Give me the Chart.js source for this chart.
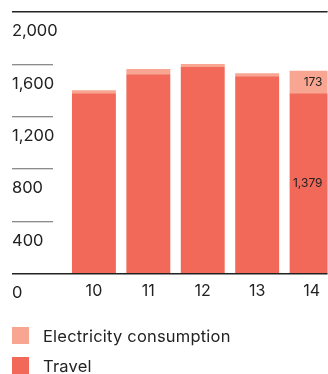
<!DOCTYPE html>
<html>
<head>
<meta charset="utf-8">
<script src="https://cdn.jsdelivr.net/npm/chart.js@4/dist/chart.umd.min.js"></script>
<style>
  html, body { margin: 0; padding: 0; background: #fff; overflow: hidden; }
  #wrap { position: relative; width: 328px; height: 374px; }
  #legend { position: absolute; left: 12px; top: 327px; font: 16.5px Inter, "Noto Sans", sans-serif; letter-spacing: 0.2px; color: #222; }
  .item { display: flex; align-items: center; height: 17px; margin-bottom: 13px; white-space: nowrap; }
  .sw { width: 17px; height: 17px; margin-right: 14px; flex: none; }
</style>
</head>
<body>
<div id="wrap">
  <canvas id="chart" width="328" height="374"></canvas>
  <div id="legend"></div>
</div>
<script>
// Emissions by year (tonnes CO2e)
const years = [10, 11, 12, 13, 14];
const travel = [1380, 1525, 1579, 1510, 1379];
const electricity = [23, 39, 23, 23, 173];
const yTicks = [0, 400, 800, 1200, 1600, 2000];
const labelledYear = 14;

const ink = '#222';
const fontFamily = 'Inter, "Noto Sans", sans-serif';
const isFrame = c => c.tick && (c.tick.value === yTicks[0] || c.tick.value === yTicks[yTicks.length - 1]);

// Writes the value inside each segment of the labelled year's bar
const segmentLabels = {
  id: 'segmentLabels',
  afterDatasetsDraw(chart) {
    const ctx = chart.ctx;
    const idx = years.indexOf(labelledYear);
    ctx.save();
    ctx.font = '12px ' + fontFamily;
    ctx.fillStyle = ink;
    ctx.textAlign = 'right';
    ctx.textBaseline = 'middle';
    chart.data.datasets.forEach((ds, di) => {
      const el = chart.getDatasetMeta(di).data[idx];
      if (!el) return;
      const p = el.getProps(['x', 'y', 'base', 'width'], true);
      const v = ds.data[idx].y;
      ctx.fillText(v.toLocaleString('en-US'), p.x + p.width / 2 - 11, (p.y + p.base) / 2);
    });
    ctx.restore();
  }
};

const chart = new Chart(document.getElementById('chart'), {
  type: 'bar',
  data: {
    datasets: [
      {
        label: 'Travel',
        data: years.map((x, i) => ({ x, y: travel[i] })),
        backgroundColor: '#f26859',
        barPercentage: 1,
        categoryPercentage: 0.807
      },
      {
        label: 'Electricity consumption',
        data: years.map((x, i) => ({ x, y: electricity[i] })),
        backgroundColor: '#f8a592',
        barPercentage: 1,
        categoryPercentage: 0.807
      }
    ]
  },
  options: {
    responsive: false,
    devicePixelRatio: 1,
    animation: false,
    layout: { padding: { left: 12, top: 12, right: 0, bottom: 65 } },
    plugins: {
      legend: { display: false },
      tooltip: { enabled: false }
    },
    scales: {
      x: {
        type: 'linear',
        stacked: true,
        offset: false,
        min: 9.248,
        max: 14.294,
        grid: { display: false, drawTicks: false, tickLength: 0 },
        border: { display: false },
        ticks: {
          stepSize: 1,
          includeBounds: false,
          padding: 8,
          color: ink,
          font: { family: fontFamily, size: 16 },
          callback: v => Number.isInteger(v) ? String(v) : ''
        }
      },
      y: {
        stacked: true,
        min: yTicks[0],
        max: yTicks[yTicks.length - 1],
        afterBuildTicks: s => { s.ticks = yTicks.map(v => ({ value: v })); },
        afterFit: s => { s.width = 41; },
        border: { display: false },
        grid: {
          drawOnChartArea: true,
          drawTicks: true,
          tickLength: 41,
          color: c => isFrame(c) ? ink : 'rgba(0,0,0,0)',
          lineWidth: 1.5,
          tickColor: c => isFrame(c) ? ink : '#666',
          tickWidth: c => isFrame(c) ? 1.5 : 1
        },
        ticks: {
          mirror: true,
          align: 'start',
          crossAlign: 'near',
          labelOffset: 11,
          padding: -41,
          color: ink,
          font: { family: fontFamily, size: 16.5 },
          callback: v => v.toLocaleString('en-US')
        }
      }
    }
  },
  plugins: [segmentLabels]
});

// Legend listing the top segment first
const legend = document.getElementById('legend');
chart.data.datasets.slice().reverse().forEach(ds => {
  const item = document.createElement('div');
  item.className = 'item';
  const sw = document.createElement('span');
  sw.className = 'sw';
  sw.style.background = ds.backgroundColor;
  const txt = document.createElement('span');
  txt.textContent = ds.label;
  item.appendChild(sw);
  item.appendChild(txt);
  legend.appendChild(item);
});
</script>
</body>
</html>
